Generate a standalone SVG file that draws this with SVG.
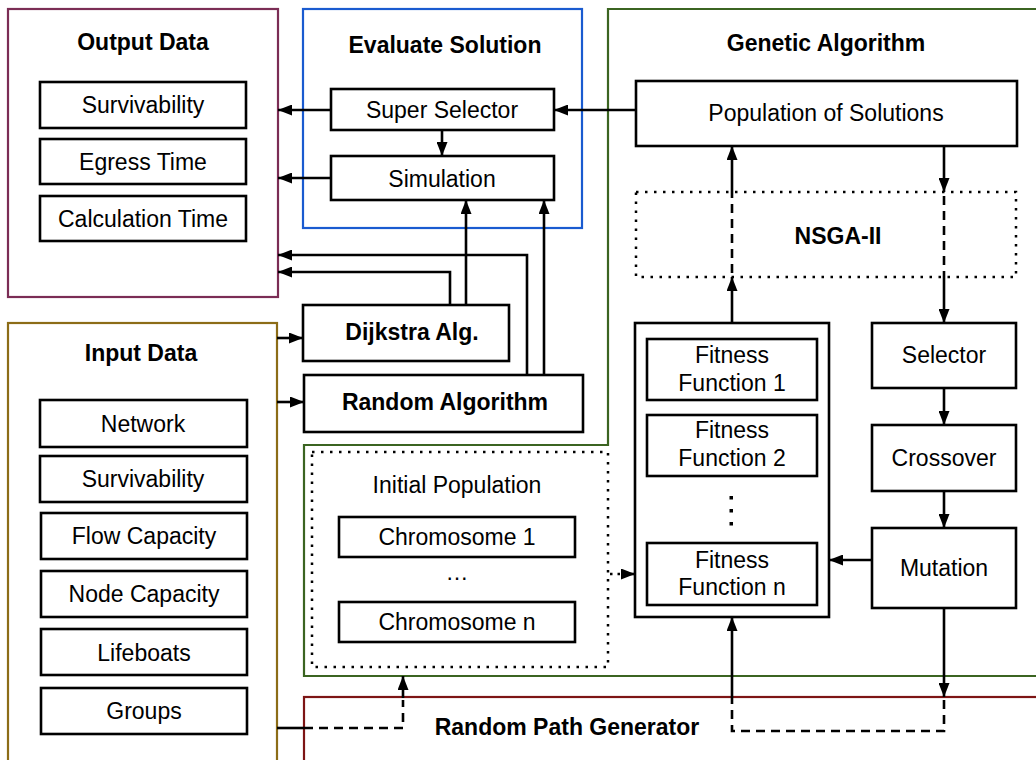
<svg xmlns="http://www.w3.org/2000/svg" width="1036" height="760" viewBox="0 0 1036 760">
  <style>
    text { font-family: "Liberation Sans", Arial, sans-serif; font-size: 23px; fill: #000; text-anchor: middle; }
    .b { font-weight: bold; }
    .box { fill: #fff; stroke: #000; stroke-width: 2.6; }
    .dotbox { fill: none; stroke: #000; stroke-width: 2.5; stroke-dasharray: 2.5 6.5; }
    .frame { fill: none; stroke-width: 2.2; }
    .ln { fill: none; stroke: #000; stroke-width: 2.6; }
    .arr { marker-end: url(#ah); }
    .dash { stroke-dasharray: 9 6; }
    .dots { stroke-dasharray: 2.5 5; }
  </style>
  <defs>
    <marker id="ah" markerUnits="userSpaceOnUse" markerWidth="14" markerHeight="11" refX="14" refY="5.5" orient="auto">
      <path d="M0,0 L14,5.5 L0,11 z" fill="#000"/>
    </marker>
  </defs>

  <rect width="1036" height="760" fill="#fff"/>

  <!-- container frames -->
  <g id="output-data">
    <rect class="frame" x="8" y="9" width="270" height="288" stroke="#7b2d55"/>
    <text class="b" x="143" y="50">Output Data</text>
    <rect class="box" x="40" y="82" width="206" height="46"/>
    <text x="143" y="113">Survivability</text>
    <rect class="box" x="40" y="139" width="206" height="45"/>
    <text x="143" y="170">Egress Time</text>
    <rect class="box" x="40" y="196" width="206" height="45"/>
    <text x="143" y="227">Calculation Time</text>
  </g>

  <g id="evaluate-solution">
    <rect class="frame" x="303" y="9" width="279" height="219" stroke="#1a5bd0"/>
    <text class="b" x="445" y="53">Evaluate Solution</text>
  </g>

  <g id="genetic-algorithm">
    <path class="frame" d="M608,9 H1040 V676 H304 V445 H608 Z" stroke="#3b6421"/>
    <text class="b" x="826" y="51">Genetic Algorithm</text>
  </g>

  <g id="input-data">
    <rect class="frame" x="8" y="323" width="269" height="450" stroke="#8c6c17"/>
    <text class="b" x="141" y="361">Input Data</text>
    <rect class="box" x="40" y="400" width="207" height="47"/>
    <text x="143" y="432">Network</text>
    <rect class="box" x="40" y="456" width="207" height="46"/>
    <text x="143" y="487">Survivability</text>
    <rect class="box" x="41" y="513" width="206" height="46"/>
    <text x="144" y="544">Flow Capacity</text>
    <rect class="box" x="41" y="571" width="206" height="46"/>
    <text x="144" y="602">Node Capacity</text>
    <rect class="box" x="41" y="629" width="206" height="46"/>
    <text x="144" y="661">Lifeboats</text>
    <rect class="box" x="41" y="688" width="206" height="46"/>
    <text x="144" y="719">Groups</text>
  </g>

  <g id="random-path-generator">
    <rect class="frame" x="304" y="697" width="740" height="80" stroke="#7d1515"/>
    <text class="b" x="567" y="735">Random Path Generator</text>
  </g>

  <!-- nodes -->
  <g id="super-selector">
    <rect class="box" x="331" y="89" width="223" height="41"/>
    <text x="442" y="118">Super Selector</text>
  </g>
  <g id="simulation">
    <rect class="box" x="331" y="156" width="223" height="44"/>
    <text x="442" y="187">Simulation</text>
  </g>
  <g id="dijkstra">
    <rect class="box" x="303" y="305" width="206" height="56"/>
    <text class="b" x="412" y="340">Dijkstra Alg.</text>
  </g>
  <g id="random-algorithm">
    <rect class="box" x="304" y="375" width="279" height="57"/>
    <text class="b" x="445" y="410">Random Algorithm</text>
  </g>
  <g id="population">
    <rect class="box" x="636" y="81" width="381" height="65"/>
    <text x="826" y="121">Population of Solutions</text>
  </g>
  <g id="nsga">
    <rect class="dotbox" x="636" y="192" width="380" height="85"/>
    <text class="b" x="838" y="244">NSGA-II</text>
  </g>
  <g id="initial-population">
    <rect class="dotbox" x="312" y="452" width="296" height="215"/>
    <text x="457" y="493">Initial Population</text>
    <rect class="box" x="339" y="517" width="236" height="40"/>
    <text x="457" y="545">Chromosome 1</text>
    <text x="457" y="580" font-size="20">…</text>
    <rect class="box" x="339" y="602" width="236" height="40"/>
    <text x="457" y="630">Chromosome n</text>
  </g>
  <g id="fitness">
    <rect class="box" x="635" y="323" width="194" height="294"/>
    <rect class="box" x="647" y="339" width="170" height="61"/>
    <text x="732" y="363">Fitness</text>
    <text x="732" y="391">Function 1</text>
    <rect class="box" x="647" y="415" width="170" height="61"/>
    <text x="732" y="438">Fitness</text>
    <text x="732" y="466">Function 2</text>
    <rect x="729.5" y="496" width="3.5" height="3.5" fill="#000"/>
    <rect x="729.5" y="509" width="3.5" height="3.5" fill="#000"/>
    <rect x="729.5" y="522" width="3.5" height="3.5" fill="#000"/>
    <rect class="box" x="647" y="543" width="170" height="62"/>
    <text x="732" y="568">Fitness</text>
    <text x="732" y="595">Function n</text>
  </g>
  <g id="selector">
    <rect class="box" x="872" y="323" width="144" height="65"/>
    <text x="944" y="363">Selector</text>
  </g>
  <g id="crossover">
    <rect class="box" x="872" y="425" width="144" height="66"/>
    <text x="944" y="466">Crossover</text>
  </g>
  <g id="mutation">
    <rect class="box" x="872" y="528" width="144" height="80"/>
    <text x="944" y="576">Mutation</text>
  </g>

  <!-- connectors -->
  <g id="connectors">
    <path class="ln arr" d="M636,110 H554"/>
    <path class="ln arr" d="M331,110 H278"/>
    <path class="ln arr" d="M331,178 H278"/>
    <path class="ln arr" d="M442,130 V156"/>
    <path class="ln arr" d="M450,305 V272 H278"/>
    <path class="ln arr" d="M466,305 V200"/>
    <path class="ln arr" d="M527,375 V255 H278"/>
    <path class="ln arr" d="M544,375 V200"/>
    <path class="ln arr" d="M277,338 H303"/>
    <path class="ln arr" d="M277,402 H304"/>

    <path class="ln arr" d="M944,146 V192"/>
    <path class="ln dash" d="M944,196 V277"/>
    <path class="ln arr" d="M944,277 V323"/>

    <path class="ln arr" d="M732,323 V277"/>
    <path class="ln dash" d="M732,273 V192"/>
    <path class="ln arr" d="M732,192 V146"/>

    <path class="ln arr" d="M944,388 V425"/>
    <path class="ln arr" d="M944,491 V528"/>
    <path class="ln arr" d="M872,560 H829"/>

    <path class="ln dots" d="M610,574 H622"/>
    <path class="ln arr" d="M621,574 H635"/>

    <path class="ln arr" d="M944,608 V697"/>
    <path class="ln dash" d="M944,700 V731 H732 V697"/>
    <path class="ln arr" d="M732,697 V617"/>

    <path class="ln" d="M277,728 H304"/>
    <path class="ln dash" d="M304,728 H403 V700"/>
    <path class="ln arr" d="M403,698 V676"/>
  </g>
</svg>
